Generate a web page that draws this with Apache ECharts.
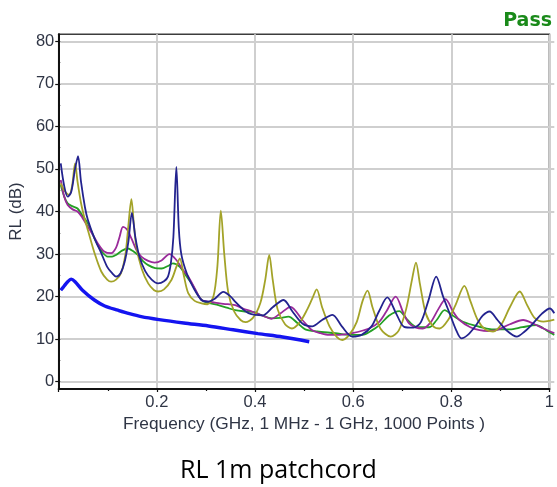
<!DOCTYPE html>
<html>
<head>
<meta charset="utf-8">
<script src="https://cdn.jsdelivr.net/npm/echarts@6/dist/echarts.min.js"></script>
<style>
html,body{margin:0;padding:0;background:#fff;}
#chart{width:557px;height:487px;}
</style>
</head>
<body>
<div id="chart"></div>
<script>
// Tick labels
var xTicks = [0.2, 0.4, 0.6, 0.8, 1];
var yTicks = [0, 10, 20, 30, 40, 50, 60, 70, 80];

// Series: [frequency GHz, RL dB]
var greenData = [[0.001,46.2],[0.008,43.5],[0.015,41.9],[0.025,41.2],[0.035,40.7],[0.045,39],[0.056,37.2],[0.066,34.5],[0.076,32.1],[0.086,30.3],[0.096,29.4],[0.105,29.4],[0.113,29.8],[0.125,30.8],[0.137,31.3],[0.147,30.7],[0.157,29.8],[0.167,28.4],[0.178,27.4],[0.192,26.7],[0.205,26.6],[0.218,27.2],[0.228,27.8],[0.242,27],[0.254,25],[0.266,23.1],[0.276,21],[0.286,19.2],[0.3,18.5],[0.32,18],[0.337,17.4],[0.354,16.8],[0.375,16.5],[0.394,16.3],[0.41,15.5],[0.428,14.9],[0.445,15],[0.462,15.3],[0.48,13.8],[0.496,12.3],[0.52,11.8],[0.557,11.4],[0.585,11],[0.612,11],[0.63,12],[0.646,13.3],[0.665,15.5],[0.686,16.6],[0.703,14.5],[0.72,12.9],[0.747,12.8],[0.762,14.5],[0.778,16.8],[0.795,15.5],[0.815,14.1],[0.84,13.2],[0.863,12.5],[0.885,12.3],[0.91,12.3],[0.935,12.8],[0.964,13.3],[0.985,12],[1.0,11]];
var purpleData = [[0.001,47.4],[0.008,43.5],[0.015,41.5],[0.025,40.5],[0.035,40],[0.045,38.5],[0.056,36.4],[0.066,34.5],[0.076,32.5],[0.089,30.6],[0.103,30.2],[0.113,31.5],[0.12,34],[0.127,36.4],[0.135,35.8],[0.144,33.7],[0.154,31],[0.164,29.4],[0.178,28.4],[0.191,28],[0.205,28.5],[0.221,30],[0.235,28.6],[0.247,26.5],[0.259,24.7],[0.272,22],[0.286,19.2],[0.3,18.8],[0.313,18.6],[0.33,18.3],[0.354,18],[0.37,17.2],[0.388,16.5],[0.41,15.5],[0.427,14.8],[0.445,16],[0.466,17.6],[0.49,14.5],[0.51,12.1],[0.527,11.4],[0.544,11],[0.565,11],[0.591,11.4],[0.625,12.5],[0.645,14],[0.66,16.5],[0.679,20],[0.695,16],[0.706,13.7],[0.72,12.7],[0.734,12.5],[0.75,14],[0.765,17],[0.78,19.4],[0.795,16.5],[0.808,14.5],[0.83,12.8],[0.849,12.1],[0.866,11.9],[0.883,12.1],[0.91,13.5],[0.937,14.5],[0.96,13.5],[0.978,12.5],[1.0,11.4]];
var oliveData = [[0.001,46.6],[0.008,45],[0.018,43.9],[0.024,46],[0.03,51.3],[0.035,47],[0.042,42],[0.05,38],[0.056,35.6],[0.07,30],[0.083,25.9],[0.095,24],[0.103,23.5],[0.113,24],[0.123,25.5],[0.132,30],[0.137,35.6],[0.144,42.9],[0.149,37],[0.154,31.7],[0.165,26.5],[0.178,23.1],[0.19,21.5],[0.198,21.2],[0.21,21.7],[0.225,23.9],[0.235,27],[0.242,29],[0.25,25],[0.259,20.8],[0.272,19],[0.286,18.4],[0.298,18.2],[0.31,20],[0.318,27],[0.325,40.2],[0.332,30],[0.34,21],[0.352,16.5],[0.365,14.5],[0.375,14],[0.39,15],[0.405,18.5],[0.415,24],[0.423,29.8],[0.43,24],[0.44,17],[0.455,13.5],[0.469,12.5],[0.485,14],[0.5,17],[0.51,19.5],[0.519,21.7],[0.53,17.5],[0.545,13],[0.56,10.5],[0.571,9.8],[0.585,11],[0.6,14],[0.612,19],[0.622,21.4],[0.632,17.5],[0.648,12.5],[0.669,10.6],[0.685,12],[0.7,17],[0.712,24],[0.72,28],[0.728,23],[0.74,16],[0.755,13],[0.768,12.5],[0.785,14.5],[0.8,18],[0.818,22.5],[0.83,19],[0.845,14.5],[0.86,12.3],[0.876,11.8],[0.893,13.5],[0.91,17.5],[0.93,21.2],[0.945,18],[0.96,15],[0.978,14.1],[0.99,14.3],[1.0,14.6]];
var navyData = [[0.001,51.3],[0.008,46],[0.015,43.5],[0.022,44.5],[0.03,50],[0.036,53],[0.042,47],[0.05,41],[0.056,38],[0.07,33.5],[0.083,30.2],[0.095,27],[0.105,25.5],[0.113,24.7],[0.122,25.5],[0.13,28],[0.138,33],[0.145,39.7],[0.152,34],[0.16,29.5],[0.172,26],[0.185,24],[0.198,23.1],[0.21,23.6],[0.218,24.7],[0.224,28],[0.229,34],[0.235,50.5],[0.24,36],[0.245,30],[0.256,25.5],[0.27,22],[0.286,19.2],[0.3,18.8],[0.313,19.5],[0.33,21.1],[0.345,20],[0.354,18.8],[0.37,17],[0.381,16.1],[0.395,15.7],[0.41,15.6],[0.43,17.5],[0.452,19.2],[0.47,16.5],[0.49,13.7],[0.51,13],[0.53,14.5],[0.551,15.7],[0.57,13],[0.591,10.6],[0.61,11],[0.63,13],[0.645,16.5],[0.662,19.8],[0.68,16],[0.696,12.9],[0.715,12.7],[0.73,14],[0.745,19],[0.761,24.7],[0.775,20],[0.788,16.1],[0.8,12.5],[0.812,10.2],[0.825,11],[0.84,13],[0.855,15.5],[0.869,16.5],[0.885,14.5],[0.903,12.1],[0.924,10.6],[0.94,11.8],[0.957,13.7],[0.975,16],[0.991,17.2],[1.0,16.1]];
var limitData = [[0.001,21.5],[0.008,22.5],[0.015,23.5],[0.022,24.1],[0.03,23.5],[0.045,21.5],[0.069,19.2],[0.09,17.8],[0.117,16.8],[0.14,16],[0.164,15.3],[0.2,14.6],[0.25,13.8],[0.3,13.1],[0.35,12.2],[0.4,11.3],[0.45,10.5],[0.504,9.4]];

var labelColor = '#2f3545';
var chart = echarts.init(document.getElementById('chart'), null, {renderer: 'canvas'});

function line(data, color, width, z) {
  return {
    type: 'line', data: data, xAxisIndex: 0, yAxisIndex: 0,
    showSymbol: false, smooth: 0.3, z: z, animation: false,
    lineStyle: {color: color, width: width}
  };
}

chart.setOption({
  animation: false,
  title: [
    {text: 'Pass', right: 0, top: 7,
     textStyle: {color: '#1a8a1a', fontSize: 19, fontWeight: 'bold', fontFamily: 'DejaVu Sans'}},
    {text: 'RL 1m patchcord', left: 'center', top: 453,
     textStyle: {color: '#000', fontSize: 25, fontWeight: 'normal', fontFamily: 'Open Sans'}}
  ],
  grid: [
    {left: 58.7, right: 2.7, top: 41.3, bottom: 105.3, show: false},
    {left: 58.7, right: 2.7, top: 34.3, bottom: 98, show: true, borderColor: '#3c3c3c', borderWidth: 1.5, backgroundColor: 'transparent'}
  ],
  xAxis: [
    {gridIndex: 0, type: 'value', min: 0, max: 1, interval: 0.2, show: false},
    {gridIndex: 1, type: 'value', min: 0, max: 1, interval: 0.2,
     axisLine: {show: true, onZero: false, lineStyle: {color: '#111', width: 2}},
     axisTick: {show: true, length: 3, lineStyle: {color: '#111', width: 1.2}},
     minorTick: {show: true, splitNumber: 2, length: 2, lineStyle: {color: '#111', width: 1.2}},
     splitLine: {show: true, lineStyle: {color: '#cfcfcf', width: 2}},
     axisLabel: {margin: 5, fontSize: 16.5, fontFamily: 'Liberation Sans, Arial', color: labelColor,
       formatter: function (v) { return xTicks.indexOf(Math.round(v * 10) / 10) >= 0 && Math.abs(v * 10 - Math.round(v * 10)) < 1e-6 ? String(Math.round(v * 10) / 10) : ''; }},
     name: 'Frequency (GHz, 1 MHz - 1 GHz, 1000 Points )', nameLocation: 'middle', nameGap: 24,
     nameTextStyle: {fontSize: 17.3, fontFamily: 'Liberation Sans, Arial', color: labelColor}}
  ],
  yAxis: [
    {gridIndex: 0, type: 'value', min: 0, max: 80, interval: 10,
     axisLine: {show: false},
     axisTick: {show: true, length: 5, lineStyle: {color: '#111', width: 1.2}},
     minorTick: {show: true, splitNumber: 2, length: 2, lineStyle: {color: '#111', width: 1.2}},
     splitLine: {show: true, lineStyle: {color: '#cfcfcf', width: 2}},
     axisLabel: {margin: 6, fontSize: 16.5, fontFamily: 'Liberation Sans, Arial', color: labelColor,
       formatter: function (v) { return yTicks.indexOf(v) >= 0 ? String(v) : ''; }},
     name: 'RL (dB)', nameLocation: 'middle', nameGap: 32,
     nameTextStyle: {fontSize: 17, fontFamily: 'Liberation Sans, Arial', color: labelColor}},
    {gridIndex: 1, type: 'value', min: 0, max: 1,
     axisLine: {show: true, onZero: false, lineStyle: {color: '#111', width: 2}},
     axisTick: {show: false}, axisLabel: {show: false}, splitLine: {show: false}}
  ],
  series: [
    line(greenData, '#24a024', 1.8, 2),
    line(purpleData, '#9a2a9a', 1.8, 3),
    line(oliveData, '#a3a328', 1.8, 4),
    line(navyData, '#23238f', 1.8, 5),
    line(limitData, '#1414f0', 3.4, 6)
  ]
});
</script>
</body>
</html>
